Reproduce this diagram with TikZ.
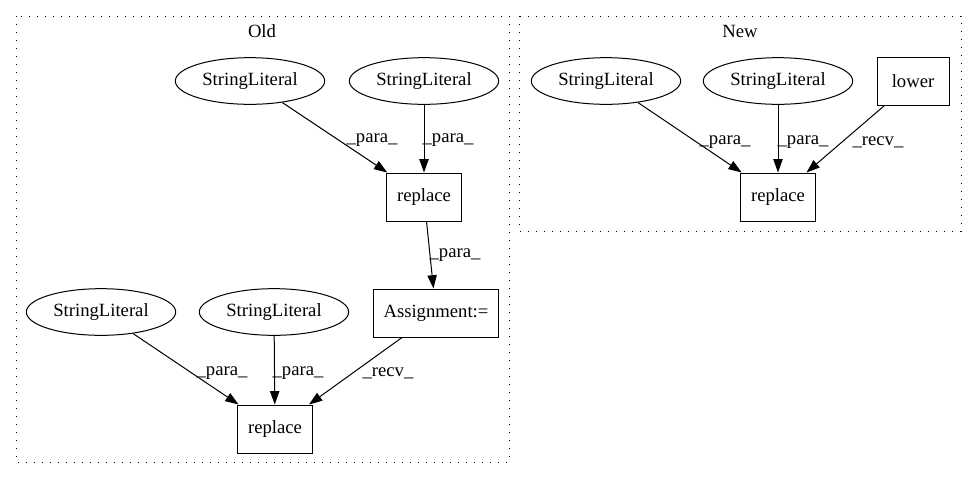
\documentclass[tikz,border=0pt]{standalone}
\usepackage{fontspec}
\setmainfont{Liberation Serif}
\usetikzlibrary{arrows.meta,shapes.geometric}
\begin{document}
\begin{tikzpicture}[x=0.75pt,y=-0.75pt,
  every node/.style={font=\fontsize{14}{16}\selectfont, inner sep=0pt},
  lit/.style={draw, ellipse, line width=0.75pt, minimum width=112pt, minimum height=35pt},
  op/.style={draw, rectangle, line width=0.75pt, minimum height=36pt, inner xsep=7pt},
  edge/.style={draw, line width=0.75pt, -{Triangle[length=10pt,width=7pt]}},
  lbl/.style={font=\fontsize{14}{16}\selectfont},
  cluster/.style={draw, line width=0.75pt, dash pattern=on 0.9pt off 5.1pt}]
\useasboundingbox (0,0) rectangle (976,480);

% cluster frames
\draw[cluster] (16,16) rectangle (509,462);
\draw[cluster] (519,16) rectangle (961,231);
\node (told) at (262,31) {Old};
\node (tnew) at (740,31) {New};

% old version
\node[lit] (sa) at (250,81) {StringLiteral};
\node[lit] (sb) at (424,81) {StringLiteral};
\node[op, minimum width=56pt] (ra) at (424,197) {replace};
\node[op, minimum width=94pt] (as) at (436,313) {Assignment:=};
\node[lit] (sc) at (101,312) {StringLiteral};
\node[lit] (sd) at (274,312) {StringLiteral};
\node[op, minimum width=56pt] (rb) at (275,429) {replace};

\draw[edge] (sa) -- (ra);
\draw[edge] (sb) -- (ra);
\draw[edge] (ra) -- (as);
\draw[edge] (sc) -- (rb);
\draw[edge] (sd) -- (rb);
\draw[edge] (as) -- (rb);
\node[lbl] (l1) at (372,140) {\_para\_};
\node[lbl] (l2) at (448,140) {\_para\_};
\node[lbl] (l3) at (455,255) {\_para\_};
\node[lbl] (l4) at (222,373) {\_para\_};
\node[lbl] (l5) at (298,373) {\_para\_};
\node[lbl] (l6) at (388,373) {\_recv\_};

% new version
\node[lit] (se) at (606,81) {StringLiteral};
\node[lit] (sf) at (778,81) {StringLiteral};
\node[op, minimum width=54pt] (lw) at (913,81) {lower};
\node[op, minimum width=56pt] (rc) at (778,197) {replace};

\draw[edge] (se) -- (rc);
\draw[edge] (sf) -- (rc);
\draw[edge] (lw) -- (rc);
\node[lbl] (l7) at (725,142) {\_para\_};
\node[lbl] (l8) at (803,142) {\_para\_};
\node[lbl] (l9) at (878,142) {\_recv\_};
\end{tikzpicture}
\end{document}
